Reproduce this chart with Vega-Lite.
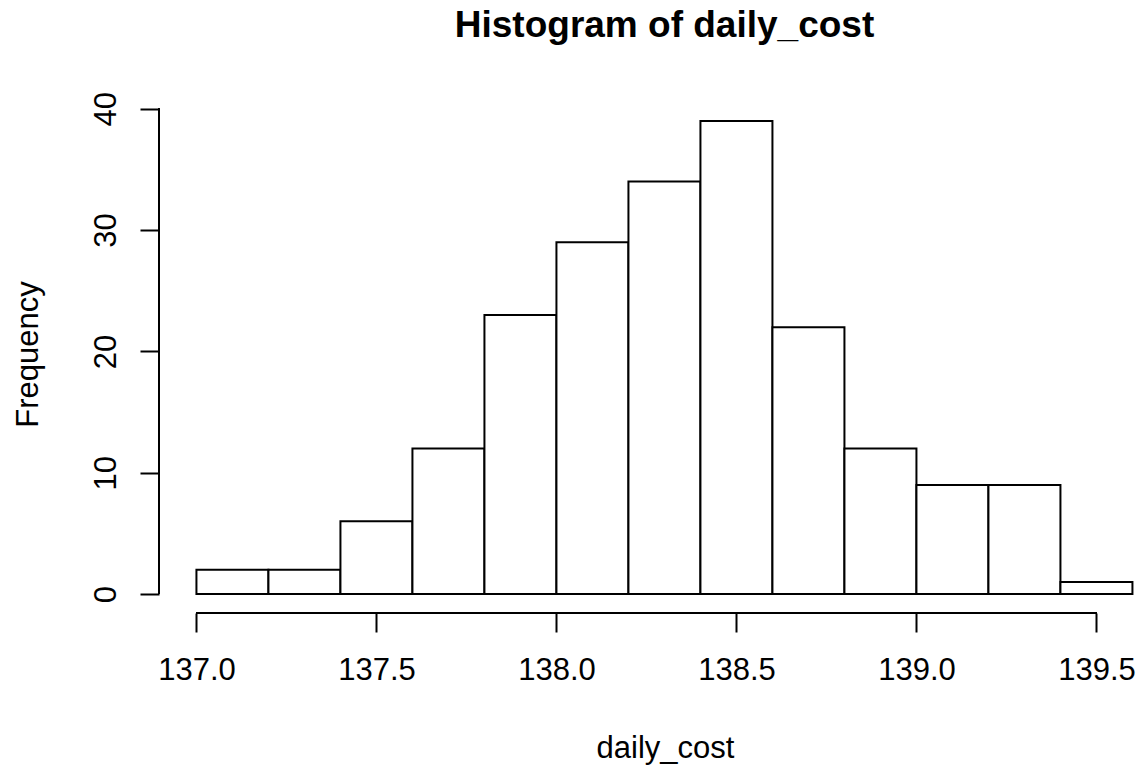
{
  "$schema": "https://vega.github.io/schema/vega-lite/v6.json",
  "autosize": {"type": "none"},
  "padding": {"left": 159, "top": 102, "right": 0, "bottom": 152},
  "width": 981,
  "height": 511,
  "background": "white",
  "config": {
    "view": {"stroke": null},
    "font": "Liberation Sans",
    "axis": {"grid": false}
  },
  "title": {
    "text": "Histogram of daily_cost",
    "font": "Liberation Sans",
    "fontSize": 37,
    "fontWeight": "bold",
    "color": "black",
    "anchor": "middle",
    "frame": "group",
    "baseline": "alphabetic",
    "offset": 18,
    "dx": 15
  },
  "data": {
    "values": [
      {"bin_start": 137.0, "bin_end": 137.2, "count": 2},
      {"bin_start": 137.2, "bin_end": 137.4, "count": 2},
      {"bin_start": 137.4, "bin_end": 137.6, "count": 6},
      {"bin_start": 137.6, "bin_end": 137.8, "count": 12},
      {"bin_start": 137.8, "bin_end": 138.0, "count": 23},
      {"bin_start": 138.0, "bin_end": 138.2, "count": 29},
      {"bin_start": 138.2, "bin_end": 138.4, "count": 34},
      {"bin_start": 138.4, "bin_end": 138.6, "count": 39},
      {"bin_start": 138.6, "bin_end": 138.8, "count": 22},
      {"bin_start": 138.8, "bin_end": 139.0, "count": 12},
      {"bin_start": 139.0, "bin_end": 139.2, "count": 9},
      {"bin_start": 139.2, "bin_end": 139.4, "count": 9},
      {"bin_start": 139.4, "bin_end": 139.6, "count": 1}
    ]
  },
  "layer": [
    {
      "mark": {"type": "bar", "fill": "white", "stroke": "black", "strokeWidth": 2},
      "encoding": {
        "x": {
          "field": "bin_start",
          "type": "quantitative",
          "scale": {"domain": [136.896, 139.621], "nice": false, "zero": false},
          "axis": {
            "values": [137.0, 137.5, 138.0, 138.5, 139.0, 139.5],
            "format": ".1f",
            "domain": false,
            "tickSize": 19,
            "tickWidth": 2,
            "tickColor": "black",
            "labelFontSize": 31,
            "labelColor": "black",
            "labelBaseline": "alphabetic",
            "labelPadding": 47,
            "labelFlush": false,
            "labelOverlap": false,
            "title": "daily_cost",
            "titleFontSize": 31,
            "titleFontWeight": "normal",
            "titleColor": "black",
            "titleBaseline": "alphabetic",
            "titleAlign": "center",
            "titleX": 506,
            "titleY": 144
          }
        },
        "x2": {"field": "bin_end"},
        "y": {
          "field": "count",
          "type": "quantitative",
          "scale": {"domain": [-1.56, 40.56], "nice": false, "zero": false},
          "axis": {
            "values": [0, 10, 20, 30, 40],
            "domain": false,
            "tickSize": 19,
            "tickWidth": 2,
            "tickColor": "black",
            "labelFontSize": 31,
            "labelColor": "black",
            "labelAngle": 270,
            "labelAlign": "center",
            "labelBaseline": "alphabetic",
            "labelPadding": 25,
            "labelOverlap": false,
            "title": "Frequency",
            "titleFontSize": 31,
            "titleFontWeight": "normal",
            "titleColor": "black",
            "titleAngle": 270,
            "titleBaseline": "alphabetic",
            "titleAlign": "center",
            "titleX": -122,
            "titleY": 252
          }
        },
        "y2": {"datum": 0}
      }
    },
    {
      "mark": {"type": "rule", "color": "black", "strokeWidth": 2},
      "encoding": {
        "x": {"datum": 137.0},
        "x2": {"datum": 139.5},
        "y": {"datum": -1.56}
      }
    },
    {
      "mark": {"type": "rule", "color": "black", "strokeWidth": 2},
      "encoding": {
        "x": {"datum": 136.896},
        "y": {"datum": 0},
        "y2": {"datum": 40}
      }
    }
  ]
}
